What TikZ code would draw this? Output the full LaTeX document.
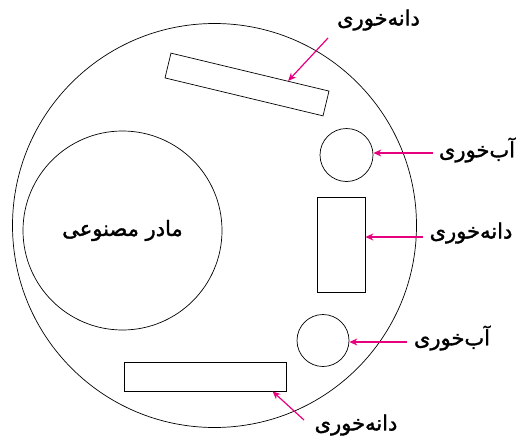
\documentclass[tikz,border=0pt]{standalone}
\usepackage{fontspec}
\usetikzlibrary{arrows.meta,calc}
\newfontfamily\arabicfont[Script=Arabic, FakeBold=1.6]{DejaVu Sans}
\TeXXeTstate=1
\definecolor{pinkarrow}{HTML}{E6007E}
\tikzset{
  shape line/.style={draw=black, line width=0.7pt, inner sep=0pt},
  roundshape/.style={shape line, circle},
  boxshape/.style={shape line, rectangle},
  pointer/.style={draw=pinkarrow, line width=1.2pt, -{Stealth[length=8pt,width=7pt]}},
  lbl/.style={font=\arabicfont\fontsize{21}{24}\selectfont, inner sep=0pt}
}
\begin{document}
\begin{tikzpicture}[x=1pt,y=-1pt]
\useasboundingbox (0,0) rectangle (524,439);
% outer circle
\node[roundshape, minimum size=404pt] (outer) at (214.5,225.5) {};
% artificial mother
\node[roundshape, minimum size=199pt, lbl] (mother) at (122.5,230.5) {\beginR مادر مصنوعی\endR};
% feeders and waterers
\node[boxshape, minimum width=162.5pt, minimum height=25.5pt, rotate=-13.5] (r1) at (247,84.5) {};
\node[roundshape, minimum size=53pt] (c1) at (346.5,155) {};
\node[boxshape, minimum width=48pt, minimum height=95pt] (r2) at (341,244.5) {};
\node[roundshape, minimum size=52pt] (c2) at (323,340.5) {};
\node[boxshape, minimum width=162pt, minimum height=29pt] (r3) at (205,376.5) {};
% labels
\node[lbl] (l1) at (378.5,20) {\beginR دانه‌خوری\endR};
\node[lbl] (l2) at (477,150) {\beginR آب‌خوری\endR};
\node[lbl] (l3) at (471,233) {\beginR دانه‌خوری\endR};
\node[lbl] (l4) at (452,338) {\beginR آب‌خوری\endR};
\node[lbl] (l5) at (356,425) {\beginR دانه‌خوری\endR};
% arrow starts
\coordinate (s1) at (328,38);
\coordinate (s2) at (433,153);
\coordinate (s3) at (423,237);
\coordinate (s4) at (407,342);
\coordinate (s5) at (304,420);
% arrows
\draw[pointer] (s1) -- ($(r1.north)!0.48!(r1.north east)$);
\draw[pointer] (s2) -- (c1.east |- s2);
\draw[pointer] (s3) -- (r2.east |- s3);
\draw[pointer] (s4) -- (c2.east |- s4);
\draw[pointer] (s5) -- ($(r3.south)!0.83!(r3.south east)$);
\end{tikzpicture}
\end{document}
